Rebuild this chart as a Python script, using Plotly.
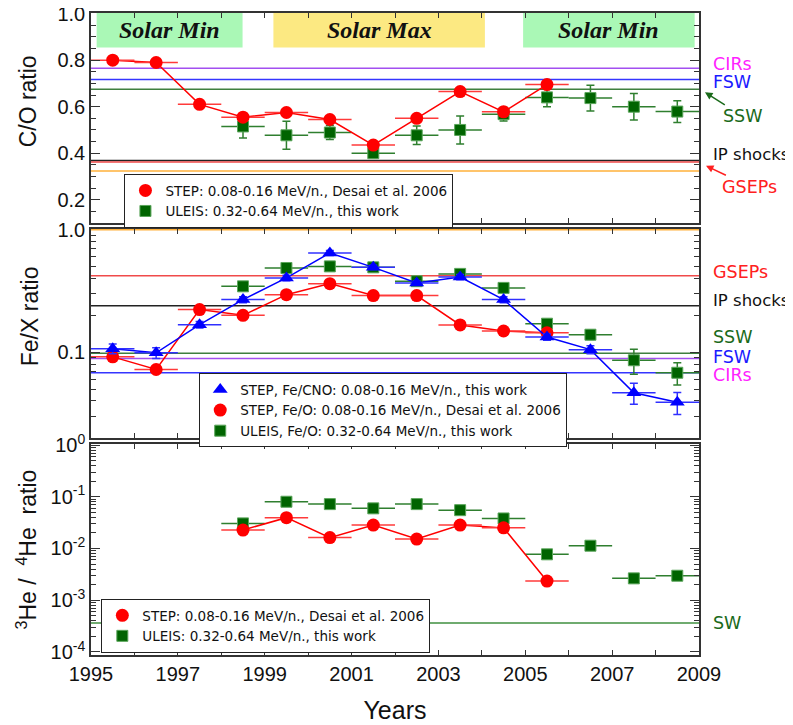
import plotly.graph_objects as go

# ---------------- data ----------------
years = [1995.5 + i for i in range(14)]          # 1995.5 ... 2008.5
half_bin = [0.5] * 14

# Panel 1: C/O
co_step_x = years[0:11]
co_step = [0.80, 0.79, 0.61, 0.555, 0.575, 0.545, 0.435, 0.55, 0.665, 0.578, 0.695]
co_uleis_x = years[3:14]
co_uleis = [0.515, 0.477, 0.489, 0.40, 0.477, 0.50, 0.568, 0.64, 0.637, 0.60, 0.579]
co_uleis_err = [0.05, 0.06, 0.03, 0.02, 0.04, 0.06, 0.03, 0.04, 0.055, 0.057, 0.047]

co_ref_names = ["CIRs", "FSW", "SSW", "IP shocks", "GSEPs", "ISEP"]
co_ref_vals = [0.765, 0.717, 0.675, 0.369, 0.362, 0.323]

# Panel 2: Fe/X
fe_cno_x = years[0:14]
fe_cno = [0.107, 0.099, 0.168, 0.269, 0.404, 0.646, 0.493, 0.367, 0.411, 0.269, 0.133, 0.105, 0.0467, 0.039]
fe_cno_err = [0.01, 0.01, 0.01, 0.015, 0.02, 0.03, 0.02, 0.015, 0.02, 0.015, 0.008, 0.008, 0.009, 0.008]
fe_o_step_x = years[0:11]
fe_o_step = [0.0917, 0.0723, 0.223, 0.20, 0.295, 0.363, 0.29, 0.29, 0.167, 0.149, 0.144]
fe_o_uleis_x = years[3:14]
fe_o_uleis = [0.345, 0.487, 0.502, 0.493, 0.38, 0.436, 0.335, 0.171, 0.139, 0.086, 0.068]
fe_o_uleis_err = [0.02, 0.025, 0.025, 0.02, 0.02, 0.02, 0.02, 0.012, 0.012, 0.02, 0.014]

fe_ref_names = ["ISEP", "GSEPs", "IP shocks", "SSW", "CIRs", "FSW"]
fe_ref_vals = [1.0, 0.42, 0.24, 0.098, 0.089, 0.068]

# Panel 3: 3He/4He
he_step_x = years[3:11]
he_step = [0.0227, 0.0394, 0.0162, 0.0283, 0.0152, 0.0283, 0.025, 0.00234]
he_uleis_x = years[3:14]
he_uleis = [0.0305, 0.08, 0.072, 0.0596, 0.072, 0.055, 0.038, 0.0077, 0.0113, 0.00264, 0.00297]
he_ref_names = ["SW"]
he_ref_vals = [3.6e-4]

# Solar cycle phases
phase_labels = ["Solar Min", "Solar Max", "Solar Min"]
phase_start = [1995.13, 1999.2, 2004.95]
phase_end = [1998.49, 2004.07, 2008.9]

x_ticks = list(range(1995, 2010))
x_ticktext = [str(y) if y % 2 == 1 else "" for y in x_ticks]

# ---------------- styles ----------------
RED = "#ff0000"
GREEN = "#006400"
GREEN_BAR = "#2f7f2f"
BLUE = "#0000ff"
line_colors = {"CIRs": "#a24ff0", "FSW": "#3535ff", "SSW": "#3f7f3f", "IP shocks": "#222222",
               "GSEPs": "#f04a4a", "ISEP": "#ffb03a", "SW": "#3f8f3f"}
label_colors = {"CIRs": "#ff22ff", "FSW": "#1a1aff", "SSW": "#1a6a1a", "IP shocks": "#111111",
                "GSEPs": "#ff2020", "SW": "#1a6a1a"}
LEG_FONT = dict(family="DejaVu Sans", size=13.5, color="#111")
LAB_FONT = "DejaVu Sans"
LAB_SIZE = 17.5
IP_SIZE = 16.5
AX_FONT = "Liberation Sans"

fig = go.Figure()

def hlines(names, vals, xa, ya):
    for n, v in zip(names, vals):
        fig.add_trace(go.Scatter(x=[1995, 2009], y=[v, v], mode="lines",
                                 line=dict(color=line_colors[n], width=1.5),
                                 xaxis=xa, yaxis=ya, showlegend=False, hoverinfo="skip"))

def uleis(x, y, err, xa, ya, name, legend):
    fig.add_trace(go.Scatter(x=x, y=y, mode="markers", name=name, legend=legend, legendrank=3,
                             marker=dict(symbol="square", size=11, color=GREEN,
                                         line=dict(color="#5aa55a", width=1)),
                             error_x=dict(type="data", array=half_bin[:len(x)], color=GREEN_BAR,
                                          thickness=1.5, width=0),
                             error_y=(dict(type="data", array=err, color=GREEN_BAR, thickness=1.5, width=4)
                                      if err is not None else dict(visible=False)),
                             xaxis=xa, yaxis=ya))

def step_red(x, y, xa, ya, name, legend):
    fig.add_trace(go.Scatter(x=x, y=y, mode="lines", line=dict(color=RED, width=1.5),
                             xaxis=xa, yaxis=ya, showlegend=False, hoverinfo="skip"))
    fig.add_trace(go.Scatter(x=x, y=y, mode="markers", name=name, legend=legend, legendrank=2,
                             marker=dict(symbol="circle", size=13, color=RED, line=dict(width=0)),
                             error_x=dict(type="data", array=half_bin[:len(x)], color="#ff3a3a",
                                          thickness=1.5, width=0),
                             xaxis=xa, yaxis=ya))

# Panel 1
hlines(co_ref_names, co_ref_vals, "x", "y")
uleis(co_uleis_x, co_uleis, co_uleis_err, "x", "y", "ULEIS: 0.32-0.64 MeV/n., this work", "legend")
step_red(co_step_x, co_step, "x", "y", "STEP: 0.08-0.16 MeV/n., Desai et al. 2006", "legend")

# Panel 2
hlines(fe_ref_names, fe_ref_vals, "x2", "y2")
uleis(fe_o_uleis_x, fe_o_uleis, fe_o_uleis_err, "x2", "y2", "ULEIS, Fe/O: 0.32-0.64 MeV/n., this work", "legend2")
step_red(fe_o_step_x, fe_o_step, "x2", "y2", "STEP, Fe/O: 0.08-0.16 MeV/n., Desai et al. 2006", "legend2")
fig.add_trace(go.Scatter(x=fe_cno_x, y=fe_cno, mode="lines", line=dict(color=BLUE, width=1.5),
                         xaxis="x2", yaxis="y2", showlegend=False, hoverinfo="skip"))
fig.add_trace(go.Scatter(x=fe_cno_x, y=fe_cno, mode="markers", name="STEP, Fe/CNO: 0.08-0.16 MeV/n., this work",
                         legend="legend2", legendrank=1,
                         marker=dict(symbol="triangle-up", size=13, color=BLUE),
                         error_x=dict(type="data", array=half_bin, color="#3030ff", thickness=1.5, width=0),
                         error_y=dict(type="data", array=fe_cno_err, color="#3030ff", thickness=1.5, width=4),
                         xaxis="x2", yaxis="y2"))

# Panel 3
hlines(he_ref_names, he_ref_vals, "x3", "y3")
uleis(he_uleis_x, he_uleis, None, "x3", "y3", "ULEIS: 0.32-0.64 MeV/n., this work", "legend3")
step_red(he_step_x, he_step, "x3", "y3", "STEP: 0.08-0.16 MeV/n., Desai et al. 2006", "legend3")

# Solar phase boxes
shapes = []
for lab, s, e in zip(phase_labels, phase_start, phase_end):
    shapes.append(dict(type="rect", xref="x", yref="y", x0=s, x1=e, y0=0.855, y1=1.003,
                       fillcolor="#aaf8b6" if "Min" in lab else "#fce982",
                       line=dict(width=0), layer="below"))

annotations = []
for lab, s, e in zip(phase_labels, phase_start, phase_end):
    annotations.append(dict(x=(s + e) / 2, y=0.928, xref="x", yref="y", text="<b><i>" + lab + "</i></b>",
                            showarrow=False, font=dict(family="Liberation Serif", size=24, color="#111")))

def lab(text, y, yref, color, size=LAB_SIZE):
    annotations.append(dict(x=1.02, y=y, xref="paper", yref=yref, text=text, xanchor="left",
                            yanchor="middle", showarrow=False, font=dict(family=LAB_FONT, size=size, color=color)))

lab("CIRs", 0.784, "y", label_colors["CIRs"])
lab("FSW", 0.706, "y", label_colors["FSW"])
lab("IP shocks", 0.393, "y", label_colors["IP shocks"], IP_SIZE)
annotations.append(dict(x=1.0099, y=0.662, xref="paper", yref="y", text="SSW", showarrow=True,
                        ax=38, ay=24, arrowhead=2, arrowsize=1, arrowwidth=1.5, arrowcolor="#1a6a1a",
                        font=dict(family=LAB_FONT, size=LAB_SIZE, color=label_colors["SSW"])))
annotations.append(dict(x=1.0115, y=0.346, xref="paper", yref="y", text="GSEPs", showarrow=True,
                        ax=44, ay=21, arrowhead=2, arrowsize=1, arrowwidth=1.5, arrowcolor="#ff2020",
                        font=dict(family=LAB_FONT, size=LAB_SIZE, color=label_colors["GSEPs"])))

lab("GSEPs", -0.342, "y2", label_colors["GSEPs"])
lab("IP shocks", -0.579, "y2", label_colors["IP shocks"], IP_SIZE)
lab("SSW", -0.872, "y2", label_colors["SSW"])
lab("FSW", -1.04, "y2", label_colors["FSW"])
lab("CIRs", -1.185, "y2", label_colors["CIRs"])
lab("SW", -3.44, "y3", label_colors["SW"])

# y-axis titles
YT_FONT = dict(family=AX_FONT, size=23, color="#111")
for txt, yp, xp in [("C/O ratio", 0.862, -0.104),
                    ("Fe/X ratio", 0.528, -0.100),
                    ("<sup>3</sup>He /  <sup>4</sup>He  ratio", 0.1636, -0.106)]:
    annotations.append(dict(x=xp, y=yp, xref="paper", yref="paper", text=txt, textangle=-90,
                            showarrow=False, xanchor="center", yanchor="middle", font=YT_FONT))

axis_common = dict(showline=True, linecolor="#333", linewidth=1.5, mirror="allticks",
                   ticks="inside", tickcolor="#333", showgrid=False, zeroline=False, automargin=False,
                   ticklabeloverflow="allow",
                   tickfont=dict(family=AX_FONT, size=20, color="#111"))

xcommon = dict(axis_common, range=[1995, 2009], tickvals=x_ticks, ticktext=x_ticktext,
               ticklen=5, tickwidth=1.2)

minor_log = [m * 10 ** k for k in range(-5, 1) for m in range(2, 10)]

fig.update_layout(
    width=785, height=717,
    margin=dict(l=83, r=94, t=5, b=70, autoexpand=False),
    paper_bgcolor="white", plot_bgcolor="white",
    showlegend=True,
    shapes=shapes, annotations=annotations,
    xaxis=dict(xcommon, anchor="y", showticklabels=False),
    xaxis2=dict(xcommon, anchor="y2", matches="x", showticklabels=False),
    xaxis3=dict(xcommon, anchor="y3", matches="x",
                title=dict(text="Years", font=dict(family=AX_FONT, size=25, color="#111"), standoff=18)),
    yaxis=dict(axis_common, domain=[0.673, 1.0], range=[0.1, 1.003],
               tickvals=[0.2, 0.4, 0.6, 0.8, 1.0], ticktext=["0.2", "0.4", "0.6", "0.8", "1.0"],
               ticklen=9, tickwidth=1.2,
               minor=dict(ticks="inside", ticklen=5, dtick=0.05, tick0=0, tickcolor="#333", showgrid=False)),
    yaxis2=dict(axis_common, domain=[0.338, 0.6636], type="log", range=[-1.7, 0.006],
                tickvals=[0.1, 1.0], ticktext=["0.1", "1.0"], ticklen=9, tickwidth=1.2,
                minor=dict(ticks="inside", ticklen=5, tickvals=minor_log, tickcolor="#333", showgrid=False)),
    yaxis3=dict(axis_common, domain=[0.0, 0.3287], type="log", range=[-4.06, 0.02],
                tickvals=[1e-4, 1e-3, 1e-2, 1e-1, 1],
                ticktext=["10<sup>-4</sup>", "10<sup>-3</sup>", "10<sup>-2</sup>", "10<sup>-1</sup>", "10<sup>0</sup>"],
                ticklen=9, tickwidth=1.2,
                minor=dict(ticks="inside", ticklen=5, tickvals=minor_log, tickcolor="#333", showgrid=False)),
    legend=dict(x=0.055, y=0.749, xanchor="left", yanchor="top", bordercolor="#222", borderwidth=1,
                bgcolor="white", font=LEG_FONT, tracegroupgap=0),
    legend2=dict(x=0.178, y=0.4388, xanchor="left", yanchor="top", bordercolor="#222", borderwidth=1,
                 bgcolor="white", font=LEG_FONT, tracegroupgap=0),
    legend3=dict(x=0.017, y=0.0872, xanchor="left", yanchor="top", bordercolor="#222", borderwidth=1,
                 bgcolor="white", font=LEG_FONT, tracegroupgap=0),
)

fig.write_html("out.html")
